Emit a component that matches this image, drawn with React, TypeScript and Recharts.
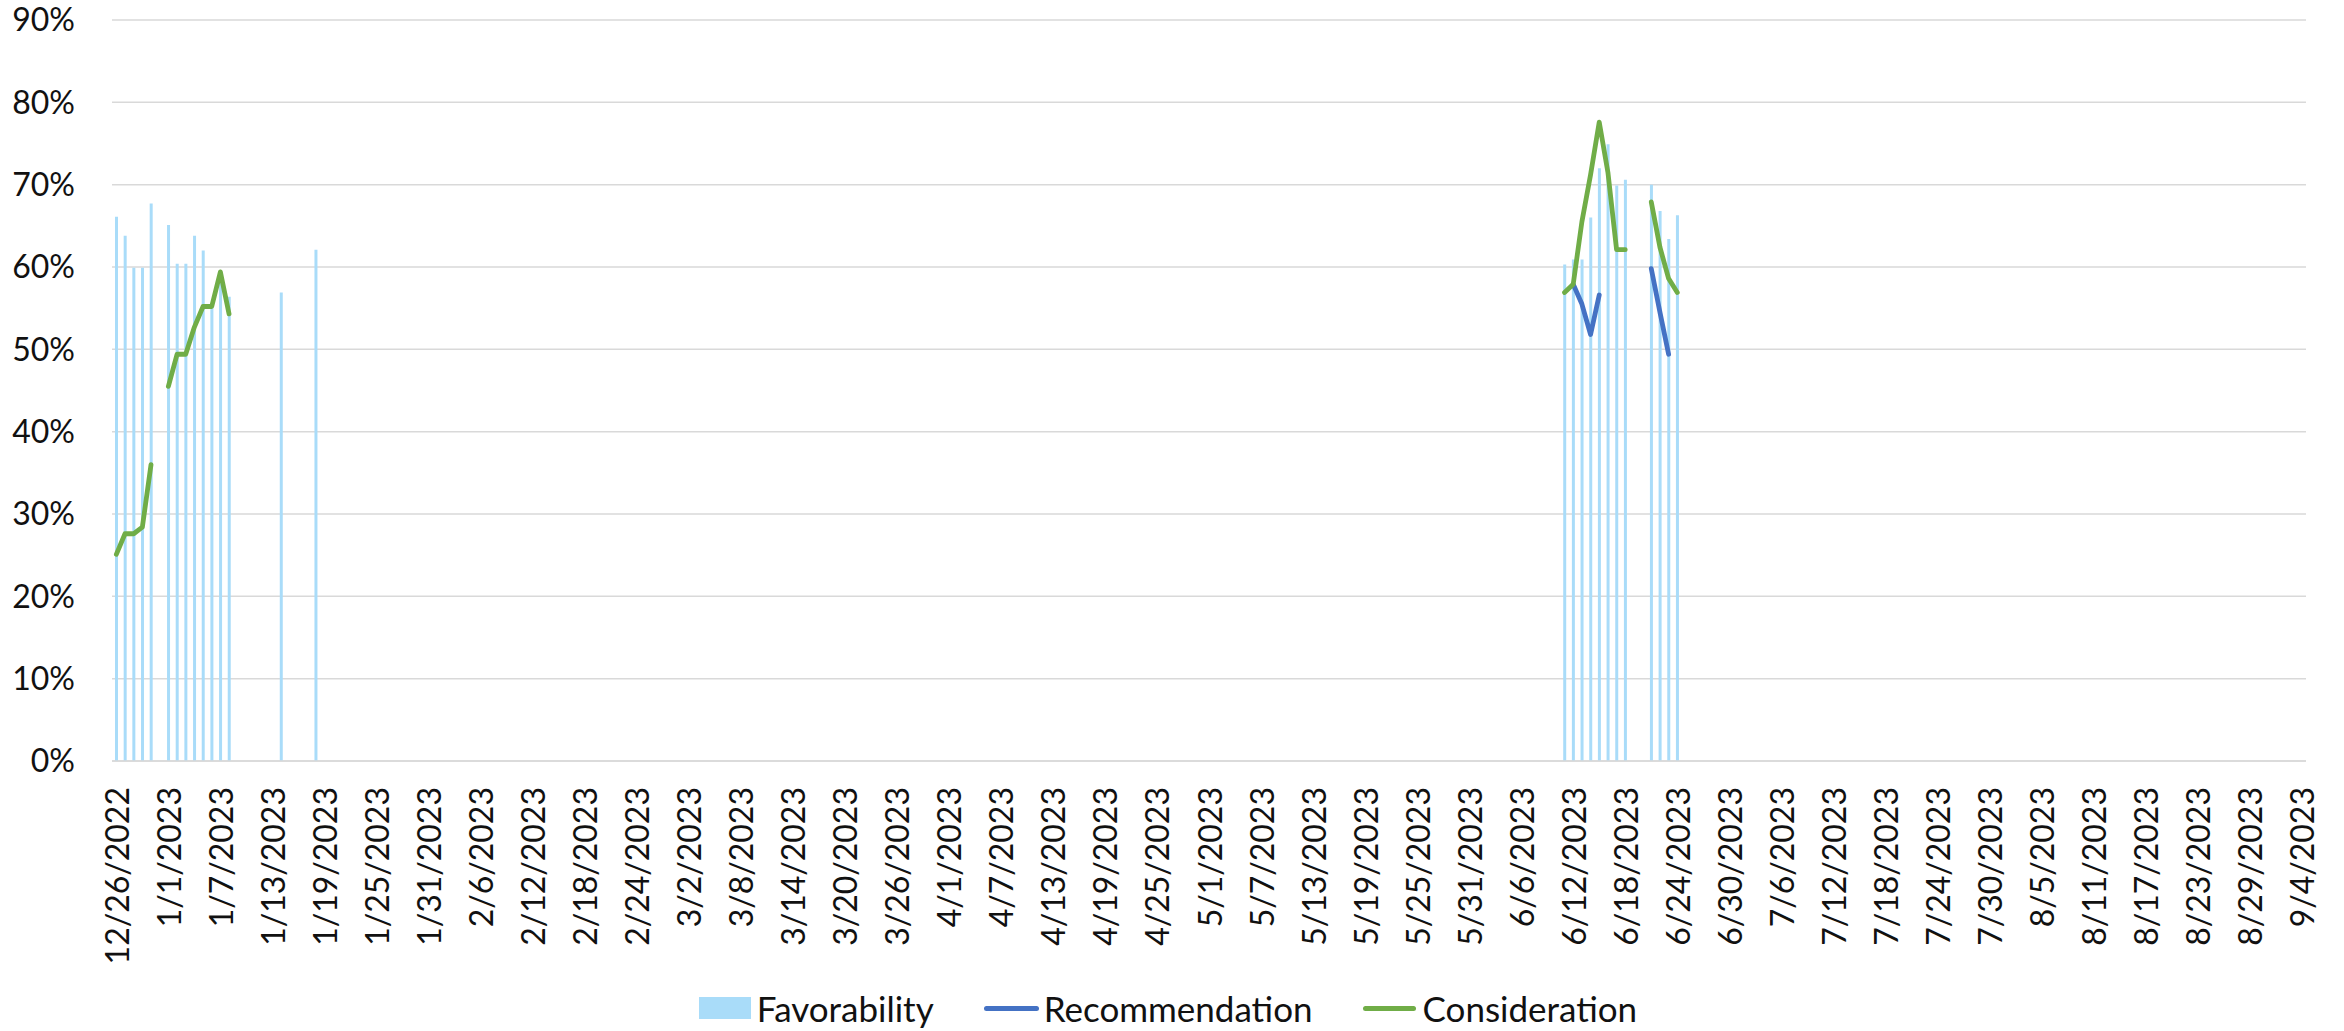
import React from 'react';
import { ComposedChart, Bar, Line, XAxis, YAxis, CartesianGrid, Legend } from 'recharts';

document.body.style.margin = '0';

// daily categories from 12/26/2022 through 9/4/2023
const firstDay = new Date(2022, 11, 26);
const dayCount = 253;
const categories: string[] = Array.from({ length: dayCount }, (_, i) => {
  const d = new Date(firstDay.getFullYear(), firstDay.getMonth(), firstDay.getDate() + i);
  return `${d.getMonth() + 1}/${d.getDate()}/${d.getFullYear()}`;
});

const yTicks = [0, 0.1, 0.2, 0.3, 0.4, 0.5, 0.6, 0.7, 0.8, 0.9];

const favorabilityDates = [
  '12/26/2022', '12/27/2022', '12/28/2022', '12/29/2022', '12/30/2022',
  '1/1/2023', '1/2/2023', '1/3/2023', '1/4/2023', '1/5/2023', '1/6/2023', '1/7/2023', '1/8/2023',
  '1/14/2023', '1/18/2023',
  '6/11/2023', '6/12/2023', '6/13/2023', '6/14/2023', '6/15/2023', '6/16/2023', '6/17/2023', '6/18/2023',
  '6/21/2023', '6/22/2023', '6/23/2023', '6/24/2023',
];
const favorability = [
  0.661, 0.638, 0.599, 0.599, 0.677,
  0.651, 0.604, 0.604, 0.638, 0.62, 0.553, 0.59, 0.564,
  0.569, 0.621,
  0.603, 0.609, 0.609, 0.66, 0.72, 0.749, 0.699, 0.706,
  0.7, 0.668, 0.634, 0.663,
];

const recommendationDates = ['6/12/2023', '6/13/2023', '6/14/2023', '6/15/2023', '6/21/2023', '6/22/2023', '6/23/2023'];
const recommendation = [0.579, 0.555, 0.518, 0.566, 0.598, 0.545, 0.494];

const considerationDates = [
  '12/26/2022', '12/27/2022', '12/28/2022', '12/29/2022', '12/30/2022',
  '1/1/2023', '1/2/2023', '1/3/2023', '1/4/2023', '1/5/2023', '1/6/2023', '1/7/2023', '1/8/2023',
  '6/11/2023', '6/12/2023', '6/13/2023', '6/14/2023', '6/15/2023', '6/16/2023', '6/17/2023', '6/18/2023',
  '6/21/2023', '6/22/2023', '6/23/2023', '6/24/2023',
];
const consideration = [
  0.251, 0.276, 0.276, 0.284, 0.36,
  0.455, 0.494, 0.494, 0.527, 0.552, 0.552, 0.594, 0.543,
  0.569, 0.579, 0.655, 0.712, 0.776, 0.715, 0.621, 0.621,
  0.679, 0.624, 0.586, 0.569,
];

const lookup = (dates: string[], values: number[], day: string) => {
  const i = dates.indexOf(day);
  return i >= 0 ? values[i] : null;
};

const data = categories.map((day) => ({
  date: day,
  favorability: lookup(favorabilityDates, favorability, day),
  recommendation: lookup(recommendationDates, recommendation, day),
  consideration: lookup(considerationDates, consideration, day),
}));

const FONT = 'Lato, "Open Sans", sans-serif';
const TEXT = '#111';

const DateTick = ({ x, y, payload }: any) => {
  const ty = y + 26;
  return (
    <text
      x={x}
      y={ty}
      transform={`rotate(-90 ${x} ${ty})`}
      textAnchor="end"
      dominantBaseline="central"
      fontSize={32}
      fontFamily={FONT}
      fill={TEXT}
    >
      {payload.value}
    </text>
  );
};

const ChartLegend = () => {
  const label = { fontSize: 35, color: TEXT, fontFamily: FONT, lineHeight: '34px' };
  return (
    <div
      style={{
        display: 'flex',
        justifyContent: 'center',
        alignItems: 'center',
        paddingTop: 20,
        paddingLeft: 30,
        gap: 50,
      }}
    >
      <div style={{ display: 'flex', alignItems: 'center' }}>
        <span style={{ width: 52, height: 22, background: '#A9DCF9', marginRight: 6 }} />
        <span style={label}>Favorability</span>
      </div>
      <div style={{ display: 'flex', alignItems: 'center' }}>
        <span style={{ width: 55, height: 5, borderRadius: 3, background: '#4472C4', marginRight: 5 }} />
        <span style={label}>Recommendation</span>
      </div>
      <div style={{ display: 'flex', alignItems: 'center' }}>
        <span style={{ width: 53, height: 5, borderRadius: 3, background: '#70AD47', marginRight: 7 }} />
        <span style={label}>Consideration</span>
      </div>
    </div>
  );
};

const App: React.FC = () => {
  return (
    <ComposedChart
      width={2344}
      height={1031}
      data={data}
      margin={{ top: 20, right: 38, left: 0, bottom: 0 }}
      style={{ fontFamily: FONT }}
    >
      <CartesianGrid vertical={false} stroke="#D9D9D9" strokeWidth={1.5} />
      <XAxis
        dataKey="date"
        interval={5}
        tickLine={false}
        tickSize={0}
        tickMargin={0}
        axisLine={{ stroke: '#D9D9D9', strokeWidth: 1.5 }}
        tick={<DateTick />}
        height={210}
      />
      <YAxis
        domain={[0, 0.9]}
        ticks={yTicks}
        tickFormatter={(v: number) => `${Math.round(v * 100)}%`}
        axisLine={false}
        tickLine={false}
        tickSize={0}
        tickMargin={37}
        width={112}
        tick={{ fill: TEXT, fontSize: 32, fontFamily: FONT }}
      />
      <Legend verticalAlign="bottom" height={60} content={() => <ChartLegend />} />
      <Bar dataKey="favorability" fill="#A9DCF9" barSize={3} isAnimationActive={false} />
      <Line
        dataKey="recommendation"
        type="linear"
        stroke="#4472C4"
        strokeWidth={4.8}
        strokeLinecap="round"
        strokeLinejoin="round"
        dot={false}
        activeDot={false}
        isAnimationActive={false}
      />
      <Line
        dataKey="consideration"
        type="linear"
        stroke="#70AD47"
        strokeWidth={4.8}
        strokeLinecap="round"
        strokeLinejoin="round"
        dot={false}
        activeDot={false}
        isAnimationActive={false}
      />
    </ComposedChart>
  );
};

export default App;
